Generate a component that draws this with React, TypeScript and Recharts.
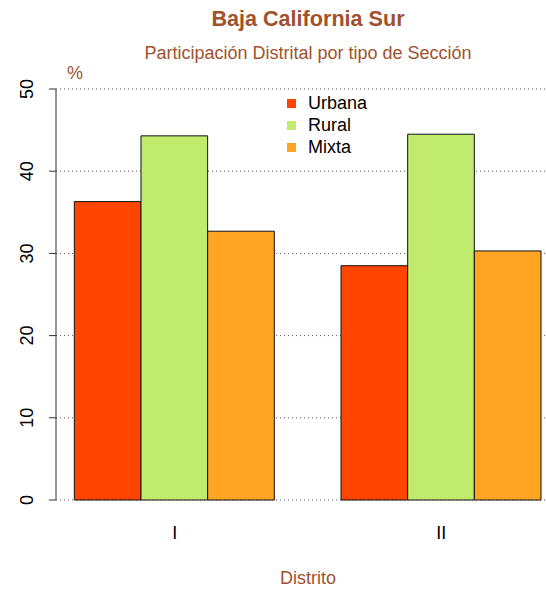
import React from "react";
import { BarChart, Bar, XAxis, YAxis, CartesianGrid } from "recharts";

// Distritos y porcentajes por tipo de sección
const distritos = ["I", "II"];
const urbana = [36.3, 28.5];
const rural = [44.3, 44.5];
const mixta = [32.7, 30.3];
const yTicks = [0, 10, 20, 30, 40, 50];

const series = [
  { key: "urbana", name: "Urbana", color: "#FF4500" },
  { key: "rural", name: "Rural", color: "#C0EB6C" },
  { key: "mixta", name: "Mixta", color: "#FFA523" },
];

const data = distritos.map((d, i) => ({
  distrito: d,
  urbana: urbana[i],
  rural: rural[i],
  mixta: mixta[i],
}));

const FONT = "'Liberation Sans', Arial, sans-serif";
const BROWN = "#A0522D";

const YTick = (props: any) => {
  const { y, payload } = props;
  return (
    <text
      x={0}
      y={0}
      transform={`translate(33, ${y}) rotate(-90)`}
      textAnchor="middle"
      fontSize={18}
      fontFamily={FONT}
      fill="#000"
    >
      {payload.value}
    </text>
  );
};

export default function App() {
  return (
    <div
      style={{
        position: "absolute",
        left: 0,
        top: 0,
        width: 546,
        height: 589,
        overflow: "hidden",
        background: "#fff",
        fontFamily: FONT,
      }}
    >
      <div
        style={{
          position: "absolute",
          left: 58,
          width: 500,
          top: 6,
          textAlign: "center",
          fontSize: 21.6,
          fontWeight: "bold",
          color: BROWN,
        }}
      >
        Baja California Sur
      </div>
      <div
        style={{
          position: "absolute",
          left: 58,
          width: 500,
          top: 43,
          textAlign: "center",
          fontSize: 18,
          color: BROWN,
        }}
      >
        Participación Distrital por tipo de Sección
      </div>
      <div style={{ position: "absolute", left: 67, top: 63, fontSize: 18, color: BROWN }}>%</div>
      <div
        style={{
          position: "absolute",
          left: 58,
          width: 500,
          top: 568,
          textAlign: "center",
          fontSize: 18,
          color: BROWN,
        }}
      >
        Distrito
      </div>

      <BarChart
        width={546}
        height={589}
        data={data}
        margin={{ top: 89, right: 0, bottom: 49, left: 0 }}
        barGap={0}
        barSize={66.67}
      >
        <CartesianGrid vertical={false} strokeDasharray="1 3" stroke="#555" />
        <XAxis
          dataKey="distrito"
          axisLine={false}
          tickLine={false}
          tickSize={0}
          tickMargin={26}
          height={40}
          padding={{ left: -14.7, right: -28.7 }}
          tick={{ fontSize: 18, fill: "#000", fontFamily: FONT }}
        />
        <YAxis
          domain={[0, 50]}
          ticks={yTicks}
          width={56}
          tickSize={7}
          axisLine={{ stroke: "#333" }}
          tickLine={{ stroke: "#333" }}
          tick={<YTick />}
          interval={0}
        />
        {series.map((s) => (
          <Bar
            key={s.key}
            dataKey={s.key}
            name={s.name}
            fill={s.color}
            stroke="#111"
            strokeWidth={1}
            isAnimationActive={false}
          />
        ))}
      </BarChart>

      <div
        style={{
          position: "absolute",
          left: 287,
          top: 92,
          fontSize: 18,
          color: "#000",
        }}
      >
        {series.map((s) => (
          <div key={s.key} style={{ display: "flex", alignItems: "center", height: 22 }}>
            <span
              style={{
                display: "inline-block",
                width: 9,
                height: 9,
                background: s.color,
                marginRight: 12,
              }}
            />
            {s.name}
          </div>
        ))}
      </div>
    </div>
  );
}
